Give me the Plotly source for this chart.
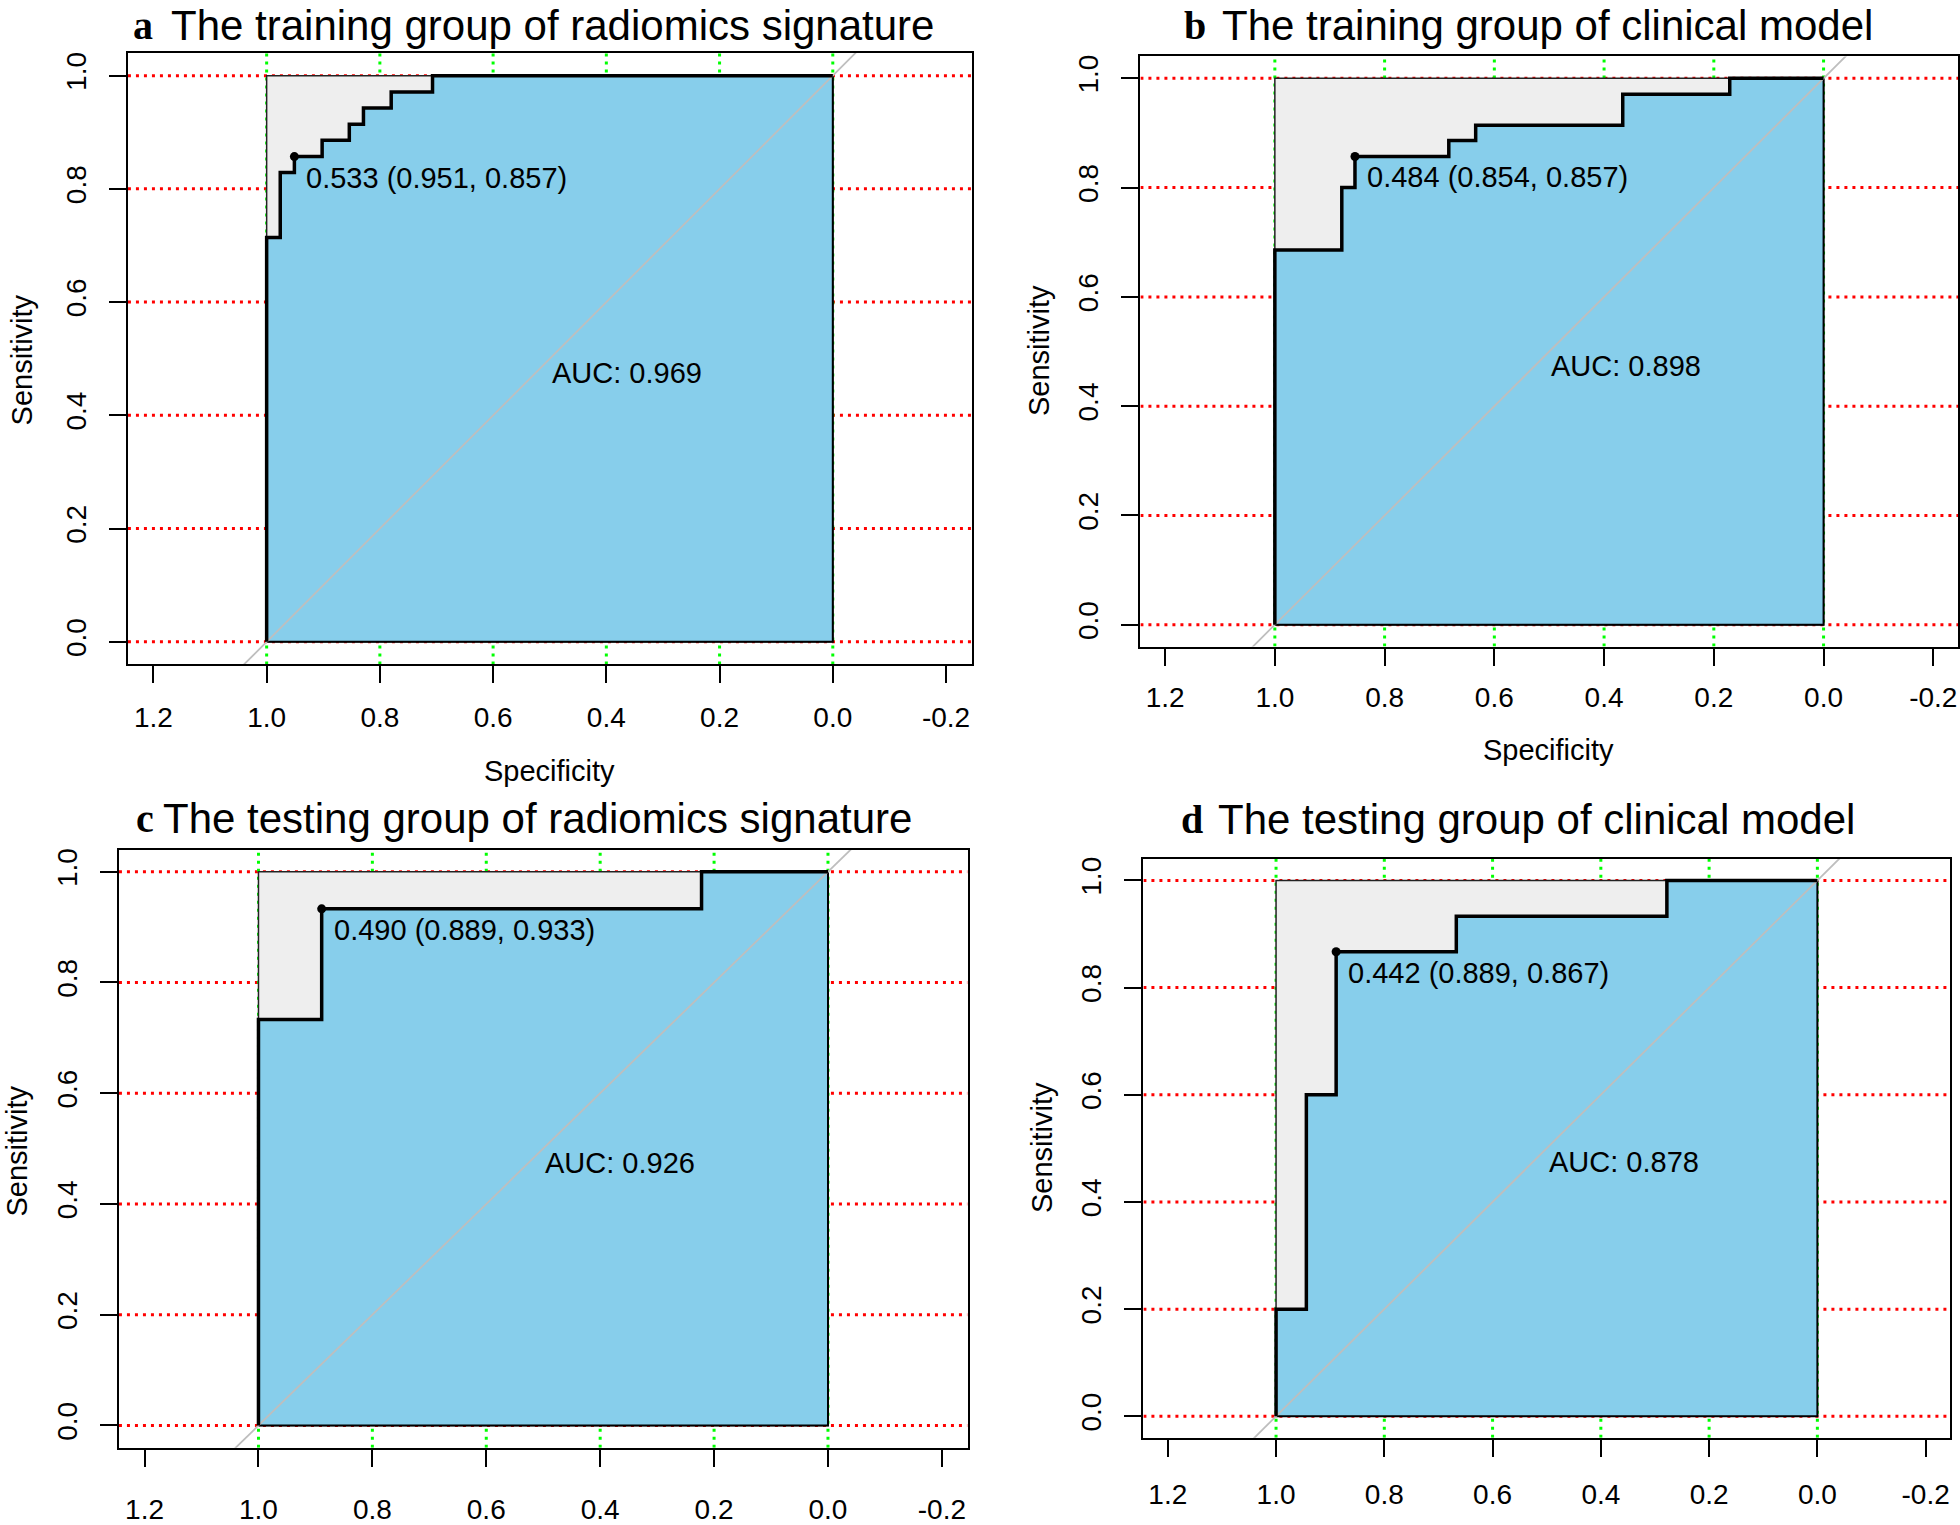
import plotly.graph_objects as go

W, H = 1960, 1525

# ---------------- data ----------------
titles_letter = ["a", "b", "c", "d"]
titles_text = [
    "The training group of radiomics signature",
    "The training group of clinical model",
    "The testing group of radiomics signature",
    "The testing group of clinical model",
]

# ROC operating points (specificity, sensitivity)
spec_a = [1.0, 1.0, 0.976, 0.951, 0.902, 0.854, 0.829, 0.780, 0.707, 0.0]
sens_a = [0.0, 0.714, 0.829, 0.857, 0.886, 0.914, 0.943, 0.971, 1.0, 1.0]
spec_b = [1.0, 1.0, 0.878, 0.854, 0.683, 0.634, 0.366, 0.171, 0.0]
sens_b = [0.0, 0.686, 0.800, 0.857, 0.886, 0.914, 0.971, 1.0, 1.0]
spec_c = [1.0, 1.0, 0.889, 0.222, 0.0]
sens_c = [0.0, 0.733, 0.933, 1.0, 1.0]
spec_d = [1.0, 1.0, 0.944, 0.889, 0.667, 0.278, 0.0]
sens_d = [0.0, 0.2, 0.6, 0.867, 0.933, 1.0, 1.0]

best_spec = [0.951, 0.854, 0.889, 0.889]
best_sens = [0.857, 0.857, 0.933, 0.867]
best_thr = [0.533, 0.484, 0.490, 0.442]
auc_vals = [0.969, 0.898, 0.926, 0.878]

x_ticks = [1.2, 1.0, 0.8, 0.6, 0.4, 0.2, 0.0, -0.2]
x_ticktext = ["1.2", "1.0", "0.8", "0.6", "0.4", "0.2", "0.0", "-0.2"]
y_ticks = [0.0, 0.2, 0.4, 0.6, 0.8, 1.0]
y_ticktext = ["0.0", "0.2", "0.4", "0.6", "0.8", "1.0"]
grid_x = [1.0, 0.8, 0.6, 0.4, 0.2, 0.0]
grid_y = [0.0, 0.2, 0.4, 0.6, 0.8, 1.0]

# ---------------- layout geometry (pixels) ----------------
# (left, right, top, bottom) of each plot box
boxes = [
    (128, 972, 51.5, 669),
    (1141, 1959, 55, 651),
    (119, 968, 856, 1460),
    (1144, 1951, 865.5, 1450),
]
title_pos = [  # letter-left, text-left, center-y
    (131, 169, 23.5),
    (1183, 1221, 23.5),
    (134, 161, 825),
    (1180, 1217, 826),
]
ylab_pos = [(22, 361), (1039, 352), (17, 1160), (1042, 1157)]
xlab_pos = [(550, 777), (1549, 755), None, None]
x_standoff = [10, 8, 19, 14]

XR = [1.245, -0.245]
YR = [-0.04, 1.04]

SKY = "#87CEEB"
GREY_FILL = "#EEEEEE"
TICKFONT = dict(family="Liberation Sans, Arial", size=28, color="black")
TXTFONT = dict(family="Liberation Sans, Arial", size=29, color="black")

specs = [spec_a, spec_b, spec_c, spec_d]
senss = [sens_a, sens_b, sens_c, sens_d]


def step_path(sp, se):
    xs, ys = [sp[0]], [se[0]]
    for i in range(1, len(sp)):
        # horizontal first, then vertical
        xs += [sp[i], sp[i]]
        ys += [se[i - 1], se[i]]
    return xs, ys


fig = go.Figure()
annotations = []

for k in range(4):
    n = "" if k == 0 else str(k + 1)
    xa, ya = "x" + n, "y" + n
    L, R, T, B = boxes[k]

    # red dotted horizontal grid
    gx, gy = [], []
    for v in grid_y:
        gx += [XR[0], XR[1], None]
        gy += [v, v, None]
    fig.add_trace(go.Scatter(x=gx, y=gy, mode="lines", xaxis=xa, yaxis=ya,
                             line=dict(color="#FF0000", width=3, dash="3px,5px"),
                             hoverinfo="skip", showlegend=False))
    # green dotted vertical grid
    gx, gy = [], []
    for v in grid_x:
        gx += [v, v, None]
        gy += [YR[0], YR[1], None]
    fig.add_trace(go.Scatter(x=gx, y=gy, mode="lines", xaxis=xa, yaxis=ya,
                             line=dict(color="#00FF00", width=3, dash="3px,5px"),
                             hoverinfo="skip", showlegend=False))
    # max AUC polygon (grey)
    fig.add_trace(go.Scatter(x=[1, 1, 0, 0, 1], y=[0, 1, 1, 0, 0], mode="lines",
                             fill="toself", fillcolor=GREY_FILL, xaxis=xa, yaxis=ya,
                             line=dict(color="#222222", width=1.5),
                             hoverinfo="skip", showlegend=False))
    # AUC polygon (blue)
    px_, py_ = step_path(specs[k], senss[k])
    fig.add_trace(go.Scatter(x=px_ + [0, 1], y=py_ + [0, 0], mode="lines",
                             fill="toself", fillcolor=SKY, xaxis=xa, yaxis=ya,
                             line=dict(color="black", width=2),
                             hoverinfo="skip", showlegend=False))
    # identity line
    fig.add_trace(go.Scatter(x=[1.3, -0.3], y=[-0.3, 1.3], mode="lines", xaxis=xa, yaxis=ya,
                             line=dict(color="#BEBEBE", width=1.8),
                             hoverinfo="skip", showlegend=False))
    # ROC curve
    fig.add_trace(go.Scatter(x=px_, y=py_, mode="lines", xaxis=xa, yaxis=ya,
                             line=dict(color="black", width=3.5),
                             hoverinfo="skip", showlegend=False))
    # best threshold point
    fig.add_trace(go.Scatter(x=[best_spec[k]], y=[best_sens[k]], mode="markers",
                             xaxis=xa, yaxis=ya,
                             marker=dict(color="black", size=9),
                             hoverinfo="skip", showlegend=False))

    annotations.append(dict(
        x=best_spec[k], y=best_sens[k], xref=xa, yref=ya,
        text="%.3f (%.3f, %.3f)" % (best_thr[k], best_spec[k], best_sens[k]),
        xanchor="left", yanchor="top", xshift=10, yshift=-3,
        showarrow=False, font=TXTFONT))
    annotations.append(dict(
        x=0.5, y=0.5, xref=xa, yref=ya, text="AUC: %.3f" % auc_vals[k],
        xanchor="left", yanchor="top", yshift=4,
        showarrow=False, font=TXTFONT))

    # titles
    lx, tx, ty = title_pos[k]
    annotations.append(dict(
        x=lx / W, y=1 - ty / H, xref="paper", yref="paper", text="<b>%s</b>" % titles_letter[k],
        xanchor="left", yanchor="middle", showarrow=False,
        font=dict(family="Liberation Serif, Times New Roman", size=40, color="black")))
    annotations.append(dict(
        x=tx / W, y=1 - ty / H, xref="paper", yref="paper", text=titles_text[k],
        xanchor="left", yanchor="middle", showarrow=False,
        font=dict(family="Liberation Sans, Arial", size=42, color="black")))

    # axis titles
    sx, sy = ylab_pos[k]
    annotations.append(dict(
        x=sx / W, y=1 - sy / H, xref="paper", yref="paper", text="Sensitivity",
        textangle=-90, xanchor="center", yanchor="middle", showarrow=False,
        font=TXTFONT))
    if xlab_pos[k] is not None:
        sx, sy = xlab_pos[k]
        annotations.append(dict(
            x=sx / W, y=1 - sy / H, xref="paper", yref="paper", text="Specificity",
            xanchor="center", yanchor="middle", showarrow=False, font=TXTFONT))

    axis_common = dict(showline=True, mirror=True, linecolor="black", linewidth=2,
                       ticks="outside", ticklen=17, tickwidth=2, tickcolor="black",
                       showgrid=False, zeroline=False, tickfont=TICKFONT, fixedrange=True)
    fig.update_layout(**{
        ("xaxis" + n): dict(domain=[L / W, R / W], range=XR, anchor=ya,
                            tickmode="array", tickvals=x_ticks, ticktext=x_ticktext,
                            ticklabelstandoff=x_standoff[k], **axis_common),
        ("yaxis" + n): dict(domain=[1 - B / H, 1 - T / H], range=YR, anchor=xa,
                            tickmode="array", tickvals=y_ticks, ticktext=y_ticktext,
                            tickangle=-90, ticklabelstandoff=12, **axis_common),
    })

fig.update_layout(width=W, height=H, margin=dict(l=0, r=0, t=0, b=0),
                  paper_bgcolor="white", plot_bgcolor="white",
                  annotations=annotations, showlegend=False)

fig.write_html("out.html", config={"displayModeBar": False, "staticPlot": True},
               post_script="document.body.style.margin='0px';document.body.style.padding='0px';")
